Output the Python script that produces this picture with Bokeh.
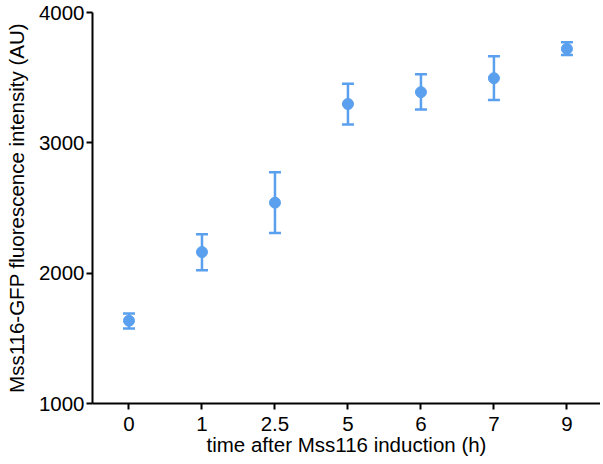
from bokeh.plotting import figure
from bokeh.models import ColumnDataSource, Whisker, TeeHead, FixedTicker, Range1d
from bokeh.embed import file_html
from bokeh.resources import INLINE

time_labels = ["0", "1", "2.5", "5", "6", "7", "9"]
mean_intensity = [1635, 2162, 2541, 3298, 3389, 3496, 3721]
err_upper = [1691, 2298, 2774, 3453, 3526, 3665, 3772]
err_lower = [1575, 2023, 2308, 3141, 3255, 3329, 3673]

color = "#5aa0ee"
font = "Liberation Sans"

xpos = list(range(len(time_labels)))
src = ColumnDataSource(dict(x=xpos, y=mean_intensity, up=err_upper, lo=err_lower))

p = figure(width=600, height=460, output_backend="svg", toolbar_location=None,
           x_range=Range1d(-0.5, 6.46), y_range=Range1d(1000, 4000),
           min_border_left=92, min_border_right=0, min_border_top=12, min_border_bottom=57)
p.outline_line_color = None
p.xgrid.visible = False
p.ygrid.visible = False

w = Whisker(base="x", upper="up", lower="lo", source=src,
            line_color=color, line_width=2.5,
            upper_head=TeeHead(size=12, line_color=color, line_width=2.5),
            lower_head=TeeHead(size=12, line_color=color, line_width=2.5))
p.add_layout(w)
p.scatter("x", "y", source=src, size=11, color=color)

for ax in (p.xaxis[0], p.yaxis[0]):
    ax.axis_line_width = 2
    ax.axis_line_color = "black"
    ax.major_tick_line_width = 2
    ax.major_tick_line_color = "black"
    ax.major_tick_in = 0
    ax.major_tick_out = 6
    ax.minor_tick_line_color = None
    ax.major_label_text_font = font
    ax.major_label_text_font_size = "20.5px"
    ax.major_label_text_color = "black"
    ax.axis_label_text_font = font
    ax.axis_label_text_font_size = "20.5px"
    ax.axis_label_text_font_style = "normal"
    ax.axis_label_text_color = "black"

p.xaxis.ticker = FixedTicker(ticks=xpos)
p.xaxis.major_label_overrides = {i: lab for i, lab in enumerate(time_labels)}
p.xaxis.major_label_standoff = 7
p.xaxis.axis_label = "time after Mss116 induction (h)"
p.xaxis.axis_label_standoff = -1

p.yaxis.ticker = FixedTicker(ticks=[1000, 2000, 3000, 4000])
p.yaxis.major_label_standoff = 2
p.yaxis.axis_label = "Mss116-GFP fluorescence intensity (AU)"
p.yaxis.axis_label_standoff = 8

open("out.html", "w").write(file_html(p, INLINE))
